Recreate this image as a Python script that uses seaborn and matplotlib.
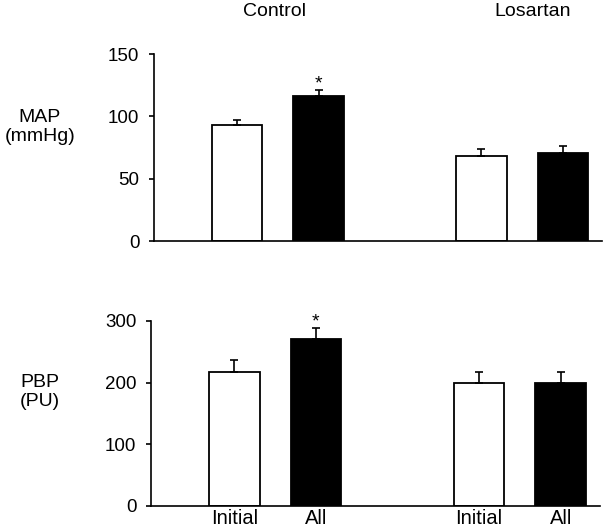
import numpy as np
import pandas as pd
import matplotlib
matplotlib.use("Agg")
import matplotlib.pyplot as plt
import seaborn as sns

# ── data ─────────────────────────────────────────────────
groups = ["Control", "Losartan"]
periods = ["Initial", "All"]
map_mean = [93, 116, 68, 70.5]
map_sem = [4, 5, 6, 6]
pbp_mean = [218, 271, 200, 200]
pbp_sem = [18, 18, 17, 18]
map_ticks = [0, 50, 100, 150]
pbp_ticks = [0, 100, 200, 300]
significant = [False, True, False, False]

sns.set_theme(style="ticks")
plt.rcParams["font.family"] = ["Liberation Sans", "DejaVu Sans"]
plt.rcParams.update({
    "axes.linewidth": 1.2,
    "axes.edgecolor": "black",
    "text.color": "black",
    "xtick.color": "black",
    "ytick.color": "black",
})

keys = [f"{g} {p}" for g in groups for p in periods]
order = keys[:2] + ["gap"] + keys[2:]
pos = [order.index(k) for k in keys]
period_col = [p for g in groups for p in periods]

fig = plt.figure(figsize=(6.05, 5.29), dpi=100)
ax_top = fig.add_axes([0.2545, 0.5444, 0.7405, 0.3535])
ax_bot = fig.add_axes([0.2496, 0.0435, 0.7420, 0.3497])


def panel(ax, means, sems, ticks, label_lines, label_y):
    df = pd.DataFrame({"key": keys, "value": means, "period": period_col})
    sns.barplot(data=df, x="key", y="value", hue="period", order=order,
                palette={"Initial": "white", "All": "black"}, dodge=False,
                width=0.62, edgecolor="black", linewidth=1.3, legend=False,
                ax=ax, errorbar=None)
    ax.errorbar(pos, means, yerr=[np.zeros(len(means)), sems], fmt="none",
                ecolor="black", elinewidth=1.2, capsize=2.8, capthick=1.2)
    for x, m, s, sig in zip(pos, means, sems, significant):
        if sig:
            ax.annotate("*", (x, m + s), xytext=(0, -2), textcoords="offset points",
                        ha="center", va="bottom", fontsize=14)
    ax.set_ylim(ticks[0], ticks[-1])
    ax.set_yticks(ticks)
    ax.set_xlim(-1.02, 4.48)
    ax.set_xlabel("")
    ax.set_ylabel("")
    ax.tick_params(axis="y", length=3.5, width=1.2, labelsize=13.5, pad=7)
    ax.tick_params(axis="x", length=0, labelsize=14.5, pad=2)
    sns.despine(ax=ax)
    fig.text(40 / 605, 1 - label_y / 529, label_lines, ha="center", va="center",
             fontsize=14, linespacing=1.12)


panel(ax_top, map_mean, map_sem, map_ticks, "MAP\n(mmHg)", 127)
panel(ax_bot, pbp_mean, pbp_sem, pbp_ticks, "PBP\n(PU)", 392)

ax_top.set_xticklabels([])
ax_bot.set_xticks(pos)
ax_bot.set_xticklabels(period_col)

fig.text(274 / 605, 1 - 12 / 529, groups[0], ha="center", va="center", fontsize=14)
fig.text(533 / 605, 1 - 12 / 529, groups[1], ha="center", va="center", fontsize=14)

fig.savefig("out.png", dpi=100)
